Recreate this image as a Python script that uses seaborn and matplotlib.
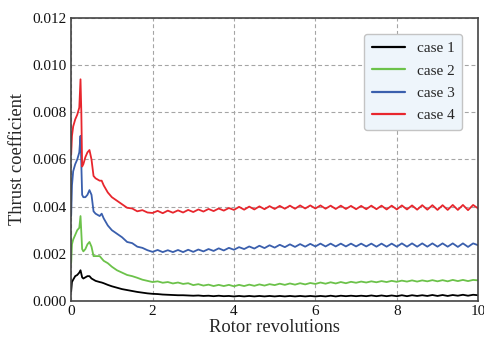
import numpy as np
import pandas as pd
import matplotlib
matplotlib.use("Agg")
import matplotlib.pyplot as plt
from matplotlib.ticker import FormatStrFormatter
import seaborn as sns

cases = ["case 1", "case 2", "case 3", "case 4"]
colors = ["#000000", "#6cc24a", "#3a5fad", "#e8262d"]

rev_early = [0, 0.02, 0.05, 0.1, 0.15, 0.2, 0.23, 0.25, 0.27, 0.3, 0.35, 0.4, 0.45, 0.5,
             0.55, 0.6, 0.7, 0.75, 0.8, 0.9, 1.0, 1.125, 1.25, 1.375, 1.5, 1.625, 1.75, 1.875]
rev_late = [2.0, 2.125, 2.25, 2.375, 2.5, 2.625, 2.75, 2.875,
            3.0, 3.125, 3.25, 3.375, 3.5, 3.625, 3.75, 3.875,
            4.0, 4.125, 4.25, 4.375, 4.5, 4.625, 4.75, 4.875,
            5.0, 5.125, 5.25, 5.375, 5.5, 5.625, 5.75, 5.875,
            6.0, 6.125, 6.25, 6.375, 6.5, 6.625, 6.75, 6.875,
            7.0, 7.125, 7.25, 7.375, 7.5, 7.625, 7.75, 7.875,
            8.0, 8.125, 8.25, 8.375, 8.5, 8.625, 8.75, 8.875,
            9.0, 9.125, 9.25, 9.375, 9.5, 9.625, 9.75, 9.875,
            10.0]
revolutions = rev_early + rev_late

case1 = [0.0004, 0.0008, 0.0009, 0.00105, 0.0011, 0.0012, 0.0013, 0.00115, 0.0010, 0.00095,
         0.0010, 0.00105, 0.00105, 0.00095, 0.0009, 0.00085, 0.0008, 0.00078, 0.00075, 0.00068,
         0.00062, 0.00056, 0.0005, 0.00046, 0.00042, 0.00038, 0.00035, 0.00032,
         0.00030, 0.00029, 0.00027, 0.00026, 0.00025, 0.00024, 0.00024, 0.00023,
         0.00022, 0.00023, 0.00021, 0.00022, 0.00020, 0.00022, 0.00020, 0.00021,
         0.00019, 0.00021, 0.00019, 0.00021, 0.00019, 0.00021, 0.00019, 0.00021,
         0.00019, 0.00021, 0.00019, 0.00021, 0.00019, 0.00021, 0.00019, 0.00021,
         0.00019, 0.00021, 0.00019, 0.00022, 0.00019, 0.00022, 0.00020, 0.00022,
         0.00020, 0.00022, 0.00020, 0.00023, 0.00020, 0.00023, 0.00020, 0.00023,
         0.00020, 0.00024, 0.00020, 0.00024, 0.00021, 0.00024, 0.00021, 0.00025,
         0.00021, 0.00025, 0.00021, 0.00025, 0.00022, 0.00026, 0.00022, 0.00026,
         0.00024]

case2 = [0.0016, 0.0024, 0.0026, 0.0028, 0.0030, 0.0031, 0.0036, 0.0029, 0.0022, 0.0021,
         0.0022, 0.0024, 0.0025, 0.0023, 0.0019, 0.0019, 0.0019, 0.0018, 0.0017, 0.0016,
         0.00145, 0.0013, 0.0012, 0.0011, 0.00105, 0.00098, 0.0009, 0.00085,
         0.00080, 0.00083, 0.00077, 0.00080, 0.00074, 0.00078, 0.00072, 0.00075,
         0.00067, 0.00071, 0.00065, 0.00069, 0.00063, 0.00068, 0.00063, 0.00068,
         0.00062, 0.00068, 0.00063, 0.00069, 0.00064, 0.00070, 0.00065, 0.00071,
         0.00067, 0.00073, 0.00068, 0.00074, 0.00069, 0.00075, 0.00070, 0.00076,
         0.00072, 0.00078, 0.00073, 0.00079, 0.00074, 0.00080, 0.00075, 0.00081,
         0.00077, 0.00082, 0.00078, 0.00083, 0.00079, 0.00084, 0.00080, 0.00085,
         0.00081, 0.00086, 0.00082, 0.00087, 0.00082, 0.00087, 0.00083, 0.00088,
         0.00083, 0.00088, 0.00083, 0.00089, 0.00084, 0.00089, 0.00084, 0.00089,
         0.00087]

case3 = [0.0036, 0.0049, 0.0055, 0.0058, 0.0060, 0.0063, 0.0070, 0.0058, 0.0045, 0.0044,
         0.0044, 0.0045, 0.0047, 0.0045, 0.0038, 0.0037, 0.0036, 0.0037, 0.0035, 0.0032,
         0.0030, 0.00285, 0.0027, 0.0025, 0.00245, 0.0023, 0.00225, 0.00215,
         0.00208, 0.00216, 0.00207, 0.00215, 0.00207, 0.00216, 0.00207, 0.00217,
         0.00208, 0.00218, 0.00210, 0.00220, 0.00212, 0.00223, 0.00214, 0.00225,
         0.00217, 0.00228, 0.00220, 0.00231, 0.00222, 0.00234, 0.00224, 0.00236,
         0.00226, 0.00238, 0.00228, 0.00240, 0.00229, 0.00241, 0.00230, 0.00242,
         0.00231, 0.00243, 0.00231, 0.00243, 0.00231, 0.00243, 0.00231, 0.00243,
         0.00231, 0.00243, 0.00231, 0.00243, 0.00230, 0.00243, 0.00230, 0.00243,
         0.00230, 0.00244, 0.00230, 0.00244, 0.00230, 0.00244, 0.00230, 0.00244,
         0.00230, 0.00244, 0.00230, 0.00244, 0.00229, 0.00244, 0.00229, 0.00244,
         0.00236]

case4 = [0.0062, 0.0070, 0.0074, 0.0077, 0.0079, 0.0082, 0.0094, 0.0080, 0.0057, 0.0058,
         0.0061, 0.0063, 0.0064, 0.0060, 0.0053, 0.0052, 0.0051, 0.0051, 0.0049, 0.0046,
         0.0044, 0.00425, 0.0041, 0.00395, 0.00392, 0.0038, 0.00385, 0.00375,
         0.00373, 0.00382, 0.00372, 0.00383, 0.00374, 0.00384, 0.00375, 0.00386,
         0.00377, 0.00388, 0.00379, 0.00390, 0.00381, 0.00392, 0.00383, 0.00394,
         0.00386, 0.00399, 0.00387, 0.00400, 0.00388, 0.00401, 0.00389, 0.00402,
         0.00390, 0.00403, 0.00391, 0.00404, 0.00391, 0.00405, 0.00392, 0.00405,
         0.00392, 0.00405, 0.00391, 0.00404, 0.00390, 0.00404, 0.00390, 0.00403,
         0.00389, 0.00403, 0.00389, 0.00404, 0.00389, 0.00404, 0.00388, 0.00404,
         0.00388, 0.00405, 0.00388, 0.00405, 0.00387, 0.00406, 0.00387, 0.00406,
         0.00386, 0.00406, 0.00386, 0.00407, 0.00386, 0.00407, 0.00385, 0.00407,
         0.00392]

xticks = [0, 2, 4, 6, 8, 10]
yticks = [0.000, 0.002, 0.004, 0.006, 0.008, 0.010, 0.012]

frames = []
for name, vals in zip(cases, [case1, case2, case3, case4]):
    frames.append(pd.DataFrame({"rev": revolutions, "ct": vals, "case": name}))
df = pd.concat(frames, ignore_index=True)

sns.set_theme(style="white")
plt.rcParams["font.family"] = ["Liberation Serif", "DejaVu Serif"]

fig = plt.figure(figsize=(4.84, 3.4), dpi=100)
ax = fig.add_axes([0.147, 0.115, 0.841, 0.832])

sns.lineplot(data=df, x="rev", y="ct", hue="case", palette=colors, hue_order=cases,
             sort=False, estimator=None, linewidth=1.3, ax=ax)

ax.set_xlim(0, 10)
ax.set_ylim(0, 0.012)
ax.set_xticks(xticks)
ax.set_yticks(yticks)
ax.yaxis.set_major_formatter(FormatStrFormatter("%.3f"))
ax.tick_params(direction="in", length=4, width=0.8, labelsize=11, colors="#222222",
               labelcolor="#111111", pad=3)
ax.grid(True, linestyle=(0, (3.5, 2.5)), color="#a5a5a5", linewidth=0.8)
for s in ax.spines.values():
    s.set_color("#444444")
    s.set_linewidth(1.2)

ax.set_xlabel("Rotor revolutions", fontsize=13.3, labelpad=1)
ax.set_ylabel("Thrust coefficient", fontsize=13.3, labelpad=5)

leg = ax.legend(loc="upper right", bbox_to_anchor=(0.961, 0.943), borderaxespad=0,
                fontsize=11, frameon=True, facecolor="#eef5fb", edgecolor="#c4c4c4",
                framealpha=1, handlelength=2.15, borderpad=0.5, labelspacing=0.56,
                fancybox=True)
for line in leg.get_lines():
    line.set_linewidth(1.6)

fig.savefig("out.png", dpi=100)
